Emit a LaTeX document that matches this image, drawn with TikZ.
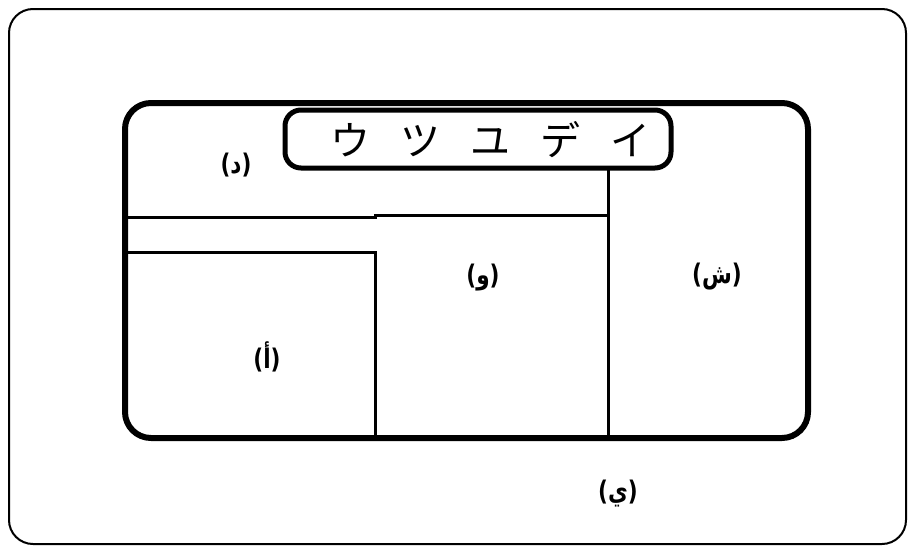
\documentclass[tikz,border=0pt]{standalone}
\usepackage{fontspec}
\newfontfamily\arabicfont[Script=Arabic]{DejaVu Sans}
\newfontfamily\jpfont{Noto Sans CJK JP}
\begin{document}
\begin{tikzpicture}[x=1pt,y=-1pt,
  lbl/.style={font=\arabicfont\bfseries\fontsize{27}{29}\selectfont, inner sep=0pt, xscale=0.8},
  thinline/.style={line width=3pt},
]
\useasboundingbox (0,0) rectangle (915,552);
\fill[white] (0,0) rectangle (915,552);
% outer frame
\draw[line width=2pt, rounded corners=24pt] (9,9) rectangle (906,544);
% inner frame
\draw[line width=6pt, rounded corners=26pt] (125,103) rectangle (808,438);
% internal lines
\draw[thinline] (125,217) -- (375,217) -- (375,215) -- (608,215);
\draw[thinline] (608,168) -- (608,438);
\draw[thinline] (125,252) -- (375,252) -- (375,438);
% title pill
\draw[line width=5pt, rounded corners=16pt, fill=white] (285,110) rectangle (671,168);
\node[inner sep=0pt, font=\jpfont\fontsize{40}{44}\selectfont] (title) at (490,140)
  {ウ\hspace{30pt}ツ\hspace{30pt}ユ\hspace{30pt}デ\hspace{30pt}イ};
% labels
\node[lbl] (d) at (236,165) {(د)};
\node[lbl] (w) at (483,278) {(و)};
\node[lbl] (a) at (267,357) {(أ)};
\node[lbl] (sh) at (717,277) {(ش)};
\node[lbl] (y) at (618,494) {(ي)};
\end{tikzpicture}
\end{document}
